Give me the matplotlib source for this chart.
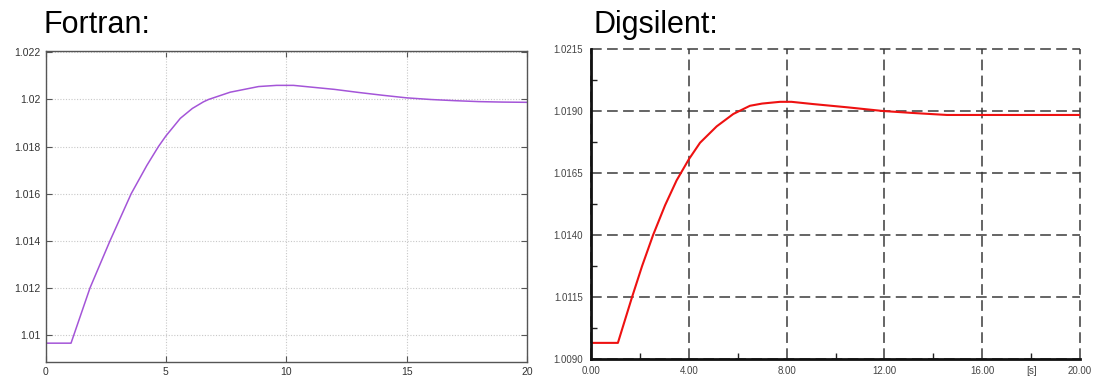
import numpy as np
import matplotlib.pyplot as plt

plt.rcParams['font.family'] = ['Liberation Sans', 'DejaVu Sans']

# Fortran result
fortran_t = [0, 1.06, 1.85, 2.68, 3.56, 4.21, 4.69, 5.0, 5.6, 6.1, 6.56, 6.77,
             7.67, 8.85, 9.6, 10.3, 11, 12, 13, 14, 15, 16, 17, 18, 19, 20]
fortran_v = [1.00965, 1.00965, 1.0120, 1.0140, 1.0160, 1.0172, 1.0180, 1.01845,
             1.0192, 1.01962, 1.0199, 1.0200, 1.02031, 1.02055, 1.0206, 1.0206,
             1.02053, 1.02043, 1.0203, 1.02018, 1.02007, 1.0200, 1.01995,
             1.01991, 1.01989, 1.01988]

# Digsilent result
dig_t = [0, 1.1, 1.68, 2.09, 2.54, 3.03, 3.5, 4.0, 4.46, 5.14, 5.82, 6.5,
         7.0, 7.73, 8.2, 9.08, 10.47, 11.94, 13.17, 14.56, 16, 18, 20]
dig_v = [1.00965, 1.00965, 1.0115, 1.01275, 1.0140, 1.0152, 1.0162, 1.01705,
         1.01772, 1.01838, 1.01888, 1.01921, 1.0193, 1.01937, 1.01937, 1.01928,
         1.01915, 1.0190, 1.01892, 1.01884, 1.01884, 1.01884, 1.01884]

f_xticks = [0, 5, 10, 15, 20]
f_yticks = [1.010, 1.012, 1.014, 1.016, 1.018, 1.020, 1.022]
f_ylabels = ["1.01", "1.012", "1.014", "1.016", "1.018", "1.02", "1.022"]

d_xticks = [0, 4, 8, 12, 16, 20]
d_xminor = [2, 6, 10, 14, 18]
d_xminor_labels = ["", "", "", "", "[s]"]
d_yticks = [1.0090, 1.0115, 1.0140, 1.0165, 1.0190, 1.0215]

W, H = 1093, 381
fig = plt.figure(figsize=(W / 100, H / 100), dpi=100)

# ---- left: Fortran (gnuplot-like) ----
ax1 = fig.add_axes([45.5 / W, (H - 362) / H, (527 - 45.5) / W, (362 - 51) / H])
ax1.plot(fortran_t, fortran_v, color='#a455d8', lw=1.1)
ax1.set_xlim(0, 20)
ax1.set_ylim(1.00885, 1.02206)
ax1.set_xticks(f_xticks)
ax1.set_yticks(f_yticks)
ax1.set_yticklabels(f_ylabels)
ax1.grid(True, color='#c8c8c8', linestyle=(0, (1, 1.5)), lw=0.8)
ax1.tick_params(direction='in', length=4, width=0.8, colors='#555555',
                labelsize=7.5, labelcolor='#333333', top=True, right=True)
for s in ax1.spines.values():
    s.set_color('#555555')
    s.set_linewidth(1.0)
fig.text(43 / W, 1 - 33 / H, "Fortran:", fontsize=22, va='baseline', ha='left')

# ---- right: Digsilent ----
ax2 = fig.add_axes([591 / W, (H - 359) / H, (1080 - 591) / W, (359 - 49) / H])
ax2.plot(dig_t, dig_v, color='#ee1111', lw=1.5)
ax2.set_xlim(0, 20)
ax2.set_ylim(1.0090, 1.0215)
ax2.set_xticks(d_xticks)
ax2.set_xticklabels([f"{v:.2f}" for v in d_xticks])
ax2.set_xticks(d_xminor, labels=d_xminor_labels, minor=True)
ax2.set_yticks(d_yticks)
ax2.set_yticklabels([f"{v:.4f}" for v in d_yticks])
ax2.set_yticks(np.arange(1.01025, 1.0215, 0.0025), minor=True)
ax2.grid(True, which='major', color='#3a3a3a', linestyle=(0, (7, 3.5)), lw=1.1)
for gl in ax2.get_xgridlines() + ax2.get_ygridlines():
    gl.set_clip_on(False)
ax2.tick_params(which='both', direction='in', colors='#222222', width=1.0,
                labelsize=7, labelcolor='#444444', pad=6)
ax2.tick_params(which='major', length=0)
ax2.tick_params(which='minor', length=4)
ax2.tick_params(axis='x', which='both', pad=5)
for side in ['top', 'right']:
    ax2.spines[side].set_visible(False)
for side in ['left', 'bottom']:
    ax2.spines[side].set_linewidth(2.0)
    ax2.spines[side].set_color('#111111')
fig.text(593 / W, 1 - 33 / H, "Digsilent:", fontsize=22, va='baseline', ha='left')

fig.savefig("out.png", dpi=100)
